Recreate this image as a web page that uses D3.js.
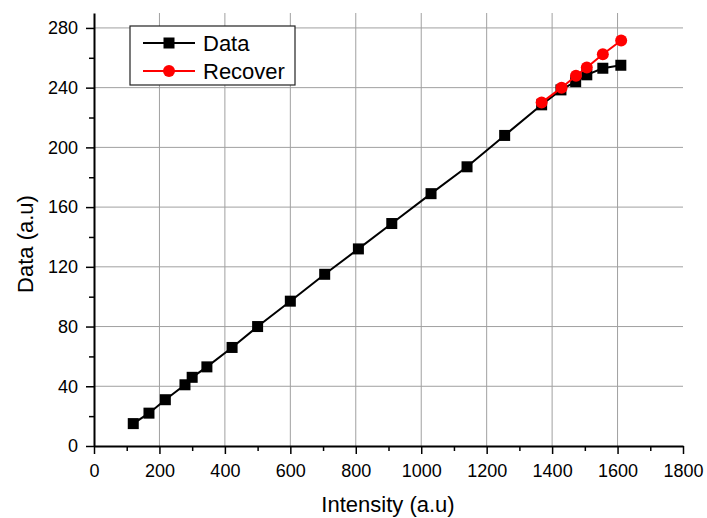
<!DOCTYPE html>
<html>
<head>
<meta charset="utf-8">
<script src="https://cdn.jsdelivr.net/npm/d3@7"></script>
<style>
  body { margin: 0; background: #fff; }
  svg text { font-family: Arial, "Liberation Sans", sans-serif; fill: #000; }
</style>
</head>
<body>
<div id="chart"></div>
<script>
// black squares
var dataX = [120, 168, 218, 278, 300, 345, 422, 500, 600, 705, 808, 910, 1030, 1140, 1255, 1368, 1427, 1472, 1506, 1555, 1610]
var dataY = [15, 22, 31, 41, 46, 53, 66, 80, 97, 115, 132, 149, 169, 187, 208, 228.5, 238.5, 244, 248.6, 253, 255]
// red circles
var recoverX = [1368, 1429, 1473, 1506, 1555, 1611]
var recoverY = [230, 240, 248, 253.5, 262.4, 271.6]

var xTicks = [0, 200, 400, 600, 800, 1000, 1200, 1400, 1600, 1800]
var yTicks = [0, 40, 80, 120, 160, 200, 240, 280]
var legendLabels = ["Data", "Recover"]

var width = 707, height = 518
var margin = {top: 13, right: 24, bottom: 72, left: 94}

var svg = d3.select("#chart").append("svg")
    .attr("width", width)
    .attr("height", height)

var x = d3.scaleLinear().domain([0, 1800]).range([margin.left, width - margin.right])
var y = d3.scaleLinear().domain([0, 290]).range([height - margin.bottom, margin.top])

// grid
var grid = svg.append("g").attr("stroke", "#a0a0a0").attr("stroke-width", 1)
grid.selectAll(".vg")
    .data(xTicks.filter(function(d){ return d > 0 && d < 1800 }))
    .enter().append("line")
    .attr("x1", d => x(d)).attr("x2", d => x(d))
    .attr("y1", y(0)).attr("y2", y(290))
grid.selectAll(".hg")
    .data(yTicks.filter(function(d){ return d > 0 }))
    .enter().append("line")
    .attr("x1", x(0)).attr("x2", x(1800))
    .attr("y1", d => y(d)).attr("y2", d => y(d))

// axes
var fmt = d3.format("d")
var xAxis = svg.append("g")
    .attr("transform", "translate(0," + y(0) + ")")
    .call(d3.axisBottom(x).tickValues(xTicks).tickFormat(fmt).tickSize(8).tickPadding(10).tickSizeOuter(0))
var xMinor = svg.append("g")
    .attr("transform", "translate(0," + y(0) + ")")
    .call(d3.axisBottom(x).tickValues(d3.range(100, 1800, 200)).tickSize(5).tickFormat("").tickSizeOuter(0))

var yAxis = svg.append("g")
    .attr("transform", "translate(" + x(0) + ",0)")
    .call(d3.axisLeft(y).tickValues(yTicks).tickFormat(fmt).tickSize(8).tickPadding(8).tickSizeOuter(0))
var yMinor = svg.append("g")
    .attr("transform", "translate(" + x(0) + ",0)")
    .call(d3.axisLeft(y).tickValues(d3.range(20, 290, 40)).tickSize(5).tickFormat("").tickSizeOuter(0))

svg.selectAll(".domain").attr("stroke", "#000").attr("stroke-width", 2)
svg.selectAll(".tick line").attr("stroke", "#000").attr("stroke-width", 1.5)
svg.selectAll(".tick text").style("font-size", "18px").style("font-family", "Arial, 'Liberation Sans', sans-serif")
xMinor.select(".domain").remove()
yMinor.select(".domain").remove()

// axis titles
svg.append("text")
    .attr("x", 388).attr("y", 512)
    .attr("text-anchor", "middle")
    .style("font-size", "22px")
    .text("Intensity (a.u)")
svg.append("text")
    .attr("transform", "translate(33,244) rotate(-90)")
    .attr("text-anchor", "middle")
    .style("font-size", "22px")
    .text("Data (a.u)")

// series
var dataPts = dataX.map(function(d, i){ return [d, dataY[i]] })
var recPts = recoverX.map(function(d, i){ return [d, recoverY[i]] })
var line = d3.line().x(d => x(d[0])).y(d => y(d[1]))

svg.append("path").datum(dataPts)
    .attr("fill", "none").attr("stroke", "#000").attr("stroke-width", 2)
    .attr("d", line)
svg.selectAll(".sq").data(dataPts).enter().append("rect")
    .attr("x", d => x(d[0]) - 5.5).attr("y", d => y(d[1]) - 5.5)
    .attr("width", 11).attr("height", 11)
    .attr("fill", "#000")

svg.append("path").datum(recPts)
    .attr("fill", "none").attr("stroke", "#ff0000").attr("stroke-width", 2)
    .attr("d", line)
svg.selectAll(".ci").data(recPts).enter().append("circle")
    .attr("cx", d => x(d[0])).attr("cy", d => y(d[1]))
    .attr("r", 6)
    .attr("fill", "#ff0000")

// legend
var legend = svg.append("g")
legend.append("rect")
    .attr("x", 130).attr("y", 26).attr("width", 165).attr("height", 59)
    .attr("fill", "#fff").attr("stroke", "#222").attr("stroke-width", 1.2)
var colors = ["#000", "#ff0000"]
legendLabels.forEach(function(lab, i) {
    var cy = 43 + i * 28
    legend.append("line")
        .attr("x1", 143).attr("x2", 195).attr("y1", cy).attr("y2", cy)
        .attr("stroke", colors[i]).attr("stroke-width", 2)
    if (i == 0) {
        legend.append("rect").attr("x", 163.5).attr("y", cy - 5.5).attr("width", 11).attr("height", 11).attr("fill", "#000")
    } else {
        legend.append("circle").attr("cx", 169).attr("cy", cy).attr("r", 6).attr("fill", "#ff0000")
    }
    legend.append("text")
        .attr("x", 203).attr("y", cy + 8)
        .style("font-size", "22px")
        .text(lab)
})
</script>
</body>
</html>
